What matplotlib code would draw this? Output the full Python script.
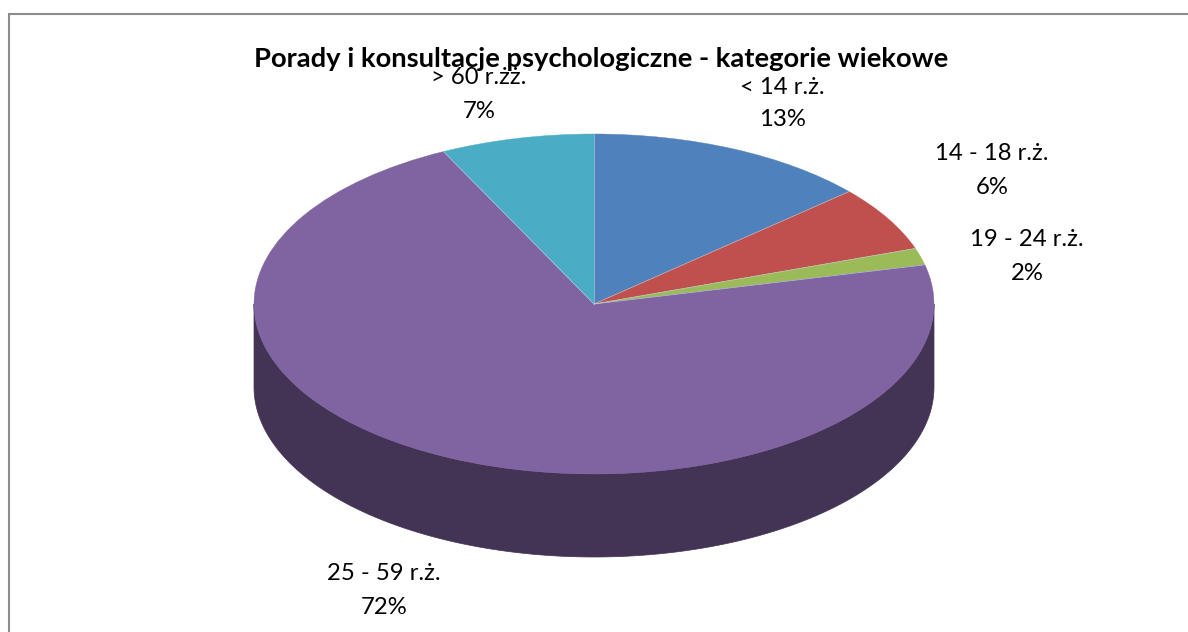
import numpy as np
import matplotlib
matplotlib.use("Agg")
import matplotlib.pyplot as plt
from matplotlib.patches import Wedge, Polygon
from matplotlib.transforms import Affine2D

# shares read from the slice edges, labels as printed on the chart
title = "Porady i konsultacje psychologiczne - kategorie wiekowe"
categories = ["< 14 r.ż.", "14 - 18 r.ż.", "19 - 24 r.ż.", "25 - 59 r.ż.", "> 60 r.żż."]
shares = [13.5, 6.2, 1.6, 71.4, 7.3]
percent_labels = ["13%", "6%", "2%", "72%", "7%"]
colors = ["#4F81BD", "#C0504D", "#9BBB59", "#8064A2", "#4BACC6"]
side_colors = ["#2F4D71", "#73302E", "#5D7035", "#433354", "#2D6776"]

label_pos = [(782, 103), (992, 170), (1027, 256), (384, 590), (479, 94)]

W, H = 1188, 632
CX, CY, RX, RY, DEPTH = 594, 304, 340, 170, 83

plt.rcParams["font.family"] = ["Lato", "DejaVu Sans"]

fig = plt.figure(figsize=(W / 100, H / 100), dpi=100)
ax = fig.add_axes([0, 0, 1, 1])
ax.set_xlim(0, W)
ax.set_ylim(H, 0)
ax.axis("off")

# only the top and left edge of the chart frame are in the crop
ax.plot([8.5, 8.5, W], [H, 13.5, 13.5], color="#8C8C8C", linewidth=1.5, solid_joinstyle="miter")

edges = -90 + np.cumsum([0] + shares) * 3.6

# side wall: only the part of each slice on the front half of the ellipse
for start, end, side in zip(edges[:-1], edges[1:], side_colors):
    lo, hi = max(start, 0), min(end, 180)
    if hi <= lo:
        continue
    t = np.radians(np.linspace(lo, hi, 200))
    xs = CX + RX * np.cos(t)
    ys = CY + RY * np.sin(t)
    pts = np.r_[np.c_[xs, ys], np.c_[xs, ys + DEPTH][::-1]]
    ax.add_patch(Polygon(pts, closed=True, facecolor=side, edgecolor=side, linewidth=0.5))

ellipse = Affine2D().scale(RX, RY).translate(CX, CY) + ax.transData
for start, end, col in zip(edges[:-1], edges[1:], colors):
    ax.add_patch(Wedge((0, 0), 1, start, end, facecolor=col, edgecolor=col,
                       linewidth=0.3, transform=ellipse))

# faint light seams between the slices
for a in np.radians(edges[:-1]):
    ax.plot([CX, CX + RX * np.cos(a)], [CY, CY + RY * np.sin(a)], color="#C4CEDD", linewidth=0.5, alpha=0.8)

ax.text(601, 59, title, fontsize=19.7, fontweight="bold", color="black", ha="center", va="center")

for cat, pct, (x, y) in zip(categories, percent_labels, label_pos):
    ax.text(x, y - 16, cat, fontsize=17.2, color="black", ha="center", va="center")
    ax.text(x, y + 17, pct, fontsize=17.2, color="black", ha="center", va="center")

fig.savefig("out.png", dpi=100)
plt.close(fig)
